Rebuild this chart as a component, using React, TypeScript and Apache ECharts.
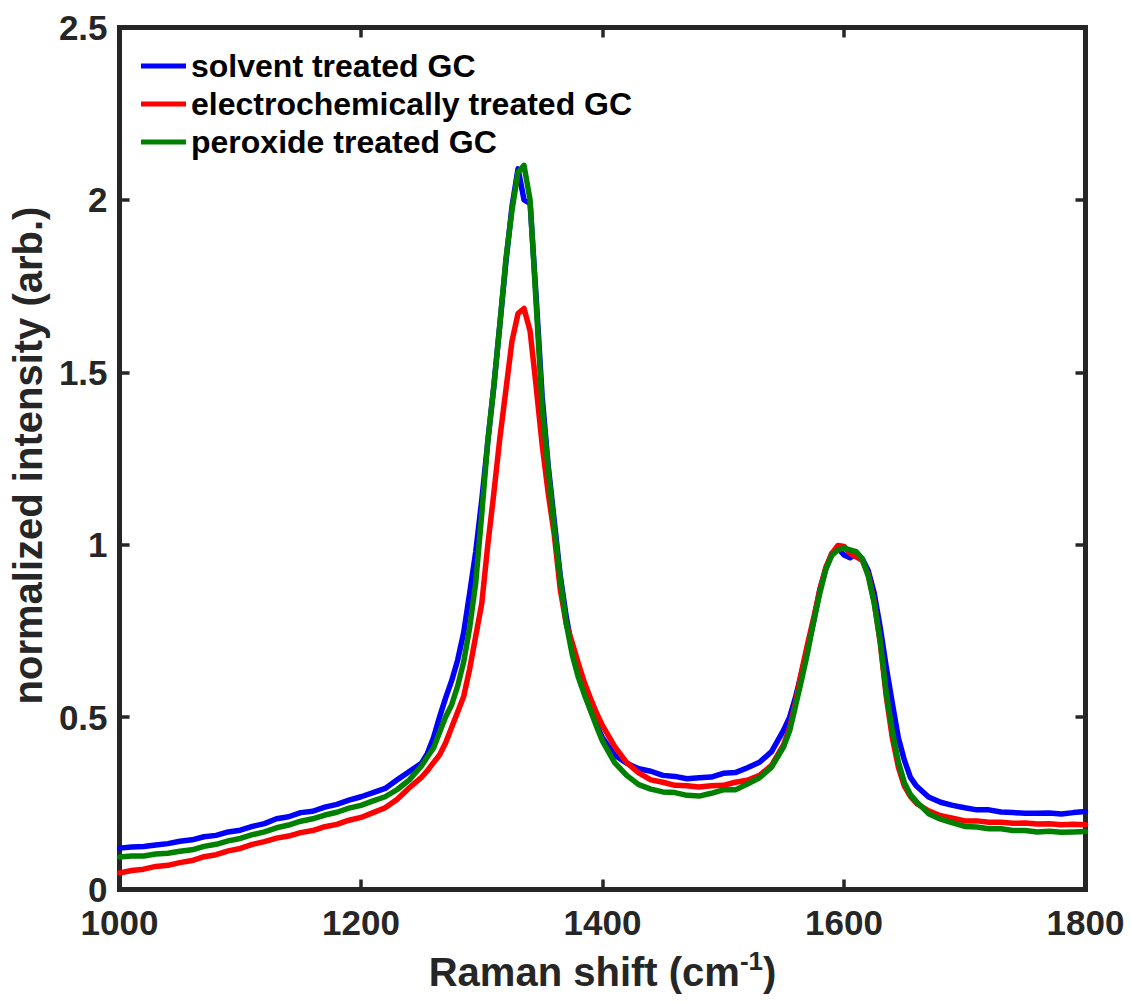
import React, { useEffect, useRef } from "react";
import * as echarts from "echarts";

// Raman shift grid (cm^-1): coarse in flat regions, finer across the D and G bands
const ramanShift = [
  1000, 1010, 1020, 1030, 1040, 1050, 1060, 1070, 1080, 1090, 1100, 1110, 1120, 1130, 1140, 1150, 1160, 1170, 1180, 1190, 1200, 1210, 1220, 1230, 1240, 1250,
  1255, 1260, 1265, 1270, 1275, 1280, 1285, 1290, 1295, 1300, 1305, 1310, 1315, 1320, 1325, 1330, 1335, 1340, 1345, 1350, 1355, 1360, 1365, 1370, 1375, 1380, 1385, 1390, 1395, 1400,
  1410, 1420, 1430, 1440, 1450, 1460, 1470, 1480, 1490, 1500, 1510, 1520, 1530, 1540, 1550,
  1555, 1560, 1565, 1570, 1575, 1580, 1585, 1590, 1595, 1600, 1605, 1610, 1615, 1620, 1625, 1630, 1635, 1640, 1645, 1650, 1655, 1660,
  1670, 1680, 1690, 1700, 1710, 1720, 1730, 1740, 1750, 1760, 1770, 1780, 1790, 1800,
];

const solventTreated = [
  0.120, 0.123, 0.125, 0.129, 0.133, 0.140, 0.144, 0.153, 0.157, 0.167, 0.172, 0.183, 0.191, 0.205, 0.211, 0.223, 0.227, 0.239, 0.247, 0.259, 0.269, 0.281, 0.293, 0.318, 0.342, 0.366,
  0.395, 0.440, 0.500, 0.555, 0.605, 0.665, 0.745, 0.860, 0.980, 1.130, 1.300, 1.460, 1.640, 1.820, 1.980, 2.090, 2.000, 1.990, 1.720, 1.430, 1.230, 1.070, 0.910, 0.790, 0.695, 0.630, 0.570, 0.522, 0.478, 0.440,
  0.390, 0.366, 0.350, 0.343, 0.331, 0.328, 0.321, 0.324, 0.326, 0.337, 0.339, 0.353, 0.369, 0.400, 0.462,
  0.500, 0.560, 0.630, 0.700, 0.780, 0.870, 0.930, 0.975, 0.990, 0.970, 0.962, 0.975, 0.960, 0.925, 0.860, 0.760, 0.645, 0.540, 0.440, 0.375, 0.325, 0.300,
  0.268, 0.253, 0.244, 0.237, 0.231, 0.231, 0.225, 0.223, 0.221, 0.221, 0.222, 0.219, 0.223, 0.226,
];

const electrochemTreated = [
  0.048, 0.055, 0.059, 0.067, 0.070, 0.078, 0.084, 0.095, 0.101, 0.112, 0.119, 0.131, 0.139, 0.149, 0.155, 0.165, 0.171, 0.182, 0.189, 0.201, 0.209, 0.223, 0.237, 0.262, 0.295, 0.325,
  0.345, 0.368, 0.390, 0.425, 0.470, 0.515, 0.560, 0.640, 0.735, 0.830, 1.000, 1.150, 1.310, 1.450, 1.590, 1.670, 1.685, 1.620, 1.460, 1.290, 1.150, 1.030, 0.870, 0.770, 0.715, 0.655, 0.600, 0.555, 0.512, 0.475,
  0.415, 0.368, 0.338, 0.318, 0.311, 0.302, 0.301, 0.297, 0.301, 0.302, 0.311, 0.317, 0.331, 0.360, 0.420,
  0.470, 0.545, 0.635, 0.715, 0.790, 0.870, 0.935, 0.975, 0.998, 0.995, 0.975, 0.965, 0.955, 0.915, 0.835, 0.715, 0.560, 0.440, 0.355, 0.300, 0.270, 0.250,
  0.228, 0.214, 0.207, 0.199, 0.199, 0.195, 0.195, 0.192, 0.193, 0.190, 0.191, 0.188, 0.189, 0.188,
];

const peroxideTreated = [
  0.094, 0.097, 0.097, 0.103, 0.105, 0.111, 0.115, 0.125, 0.131, 0.141, 0.148, 0.159, 0.167, 0.179, 0.187, 0.198, 0.205, 0.216, 0.224, 0.236, 0.244, 0.257, 0.269, 0.290, 0.318, 0.358,
  0.385, 0.410, 0.455, 0.500, 0.535, 0.590, 0.660, 0.760, 0.890, 1.090, 1.300, 1.460, 1.640, 1.830, 1.970, 2.080, 2.100, 2.000, 1.700, 1.400, 1.220, 1.050, 0.900, 0.770, 0.680, 0.615, 0.565, 0.520, 0.473, 0.430,
  0.368, 0.331, 0.304, 0.291, 0.283, 0.281, 0.273, 0.271, 0.279, 0.289, 0.289, 0.306, 0.324, 0.355, 0.414,
  0.460, 0.535, 0.610, 0.690, 0.780, 0.860, 0.930, 0.970, 0.985, 0.990, 0.985, 0.980, 0.960, 0.910, 0.830, 0.720, 0.570, 0.460, 0.370, 0.310, 0.275, 0.255,
  0.220, 0.204, 0.193, 0.183, 0.181, 0.176, 0.176, 0.171, 0.171, 0.167, 0.169, 0.166, 0.167, 0.168,
];

const seriesNames = ["solvent treated GC", "electrochemically treated GC", "peroxide treated GC"];
const seriesColors = ["#0000FF", "#FF0000", "#008000"];
const seriesValues = [solventTreated, electrochemTreated, peroxideTreated];

const FONT = "'Liberation Sans', Arial, Helvetica, sans-serif";
const AXIS_COLOR = "#262626";

export default function App() {
  const ref = useRef<HTMLDivElement>(null);

  useEffect(() => {
    document.body.style.margin = "0";
    if (!ref.current) return;
    const chart = echarts.init(ref.current, undefined, { renderer: "svg" });

    const frameLine = { lineStyle: { color: AXIS_COLOR, width: 5, cap: "square" as const } };
    const tickStyle = { show: true, inside: true, length: 10, lineStyle: { color: AXIS_COLOR, width: 3.5 } };
    const labelStyle = { color: AXIS_COLOR, fontSize: 35, fontWeight: "bold" as const, fontFamily: FONT };

    chart.setOption({
      animation: false,
      backgroundColor: "#ffffff",
      grid: { left: 119.5, top: 27.5, width: 966, height: 862, containLabel: false },
      legend: {
        orient: "vertical",
        left: 141,
        top: 50,
        padding: 0,
        icon: "rect",
        itemWidth: 45,
        itemHeight: 5,
        itemGap: 6,
        data: seriesNames,
        textStyle: { color: "#000000", fontSize: 32, fontWeight: "bold", fontFamily: FONT, lineHeight: 32 },
      },
      xAxis: [
        {
          type: "value",
          min: 1000,
          max: 1800,
          interval: 200,
          position: "bottom",
          axisLine: { show: true, onZero: false, ...frameLine },
          axisTick: tickStyle,
          axisLabel: { ...labelStyle, lineHeight: 30, margin: 18, formatter: (v: number) => String(v) },
          splitLine: { show: false },
          name: "{t|Raman shift (cm}{s|-1}{t|)}",
          nameLocation: "middle",
          nameGap: 58,
          nameTextStyle: {
            rich: {
              t: { fontSize: 40, fontWeight: "bold", fontFamily: FONT, color: AXIS_COLOR, lineHeight: 48 },
              s: { fontSize: 26, fontWeight: "bold", fontFamily: FONT, color: AXIS_COLOR, verticalAlign: "top", lineHeight: 26 },
            },
          },
        },
        {
          type: "value",
          min: 1000,
          max: 1800,
          interval: 200,
          position: "top",
          axisLine: { show: true, onZero: false, ...frameLine },
          axisTick: tickStyle,
          axisLabel: { show: false },
          splitLine: { show: false },
        },
      ],
      yAxis: [
        {
          type: "value",
          min: 0,
          max: 2.5,
          interval: 0.5,
          position: "left",
          axisLine: { show: true, onZero: false, ...frameLine },
          axisTick: tickStyle,
          axisLabel: { ...labelStyle, lineHeight: 28, margin: 12, formatter: (v: number) => String(v) },
          splitLine: { show: false },
          name: "normalized intensity (arb.)",
          nameLocation: "middle",
          nameRotate: 90,
          nameGap: 62,
          nameTextStyle: { fontSize: 40, fontWeight: "bold", fontFamily: FONT, color: AXIS_COLOR, padding: [0, 0, 0, 6] },
        },
        {
          type: "value",
          min: 0,
          max: 2.5,
          interval: 0.5,
          position: "right",
          axisLine: { show: true, onZero: false, ...frameLine },
          axisTick: tickStyle,
          axisLabel: { show: false },
          splitLine: { show: false },
        },
      ],
      series: seriesNames.map((name, i) => ({
        name,
        type: "line",
        xAxisIndex: 0,
        yAxisIndex: 0,
        data: ramanShift.map((x, k) => [x, seriesValues[i][k]]),
        showSymbol: false,
        symbol: "none",
        clip: true,
        color: seriesColors[i],
        lineStyle: { color: seriesColors[i], width: 5.5, join: "round", cap: "round" },
        z: 2 + i,
      })),
    });

    return () => chart.dispose();
  }, []);

  return <div ref={ref} style={{ width: 1131, height: 1004 }} />;
}
